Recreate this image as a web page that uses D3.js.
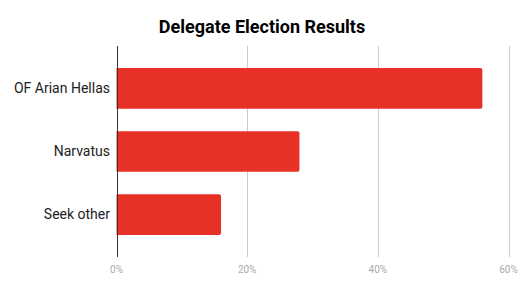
<!DOCTYPE html>
<html><head><meta charset="utf-8">
<script src="https://cdn.jsdelivr.net/npm/d3@7"></script>
<style>body{margin:0;background:#fff}svg{display:block}</style>
</head><body>
<script>
const categories = ["OF Arian Hellas", "Narvatus", "Seek other"];
const values = [56, 28, 16];
const tickValues = [0, 20, 40, 60];
const title = "Delegate Election Results";

const W = 523, H = 290;
const svg = d3.select("body").append("svg").attr("width", W).attr("height", H);
const x = d3.scaleLinear().domain([0, 60]).range([116.5, 508.5]);
const y = d3.scaleBand().domain(categories).range([46, 257]).paddingInner(0.354).paddingOuter(0.35);

svg.append("text").attr("x", 262).attr("y", 33).attr("text-anchor", "middle")
  .attr("font-family", "Roboto").attr("font-weight", "bold").attr("font-size", 18)
  .attr("fill", "#000").text(title);

svg.append("g").selectAll("line").data(tickValues.filter(d => d > 0)).join("line")
  .attr("x1", d => Math.round(x(d)) + 0.5).attr("x2", d => Math.round(x(d)) + 0.5)
  .attr("y1", 46).attr("y2", 257).attr("stroke", "#cccccc").attr("stroke-width", 1);

svg.append("g").selectAll("path").data(values).join("path")
  .attr("fill", "#e83126")
  .attr("d", (d, i) => {
    const x0 = x(0), x1 = x(d), y0 = y(categories[i]), h = y.bandwidth(), r = 2;
    return `M${x0},${y0}H${x1 - r}Q${x1},${y0} ${x1},${y0 + r}V${y0 + h - r}Q${x1},${y0 + h} ${x1 - r},${y0 + h}H${x0}Z`;
  });

svg.append("line").attr("x1", Math.round(x(0)) + 0.5).attr("x2", Math.round(x(0)) + 0.5)
  .attr("y1", 46).attr("y2", 257).attr("stroke", "#333").attr("stroke-width", 1);

svg.append("g").selectAll("text").data(categories).join("text")
  .attr("x", 110).attr("y", d => y(d) + y.bandwidth() / 2).attr("dy", "0.35em")
  .attr("text-anchor", "end").attr("font-family", "Roboto").attr("font-size", 14)
  .attr("fill", "#222").text(d => d);

svg.append("g").selectAll("text").data(tickValues).join("text")
  .attr("x", d => x(d)).attr("y", 273).attr("text-anchor", "middle")
  .attr("font-family", "Roboto").attr("font-size", 10).attr("fill", "#aaaaaa")
  .text(d => d + "%");
</script>
</body></html>
